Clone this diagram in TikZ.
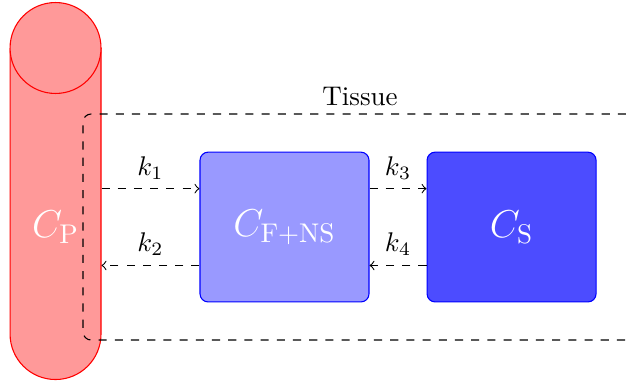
\documentclass[tikz,border=0pt]{standalone}
\usepackage{amsmath}
\usepackage{tikz}
\usetikzlibrary{positioning}

\tikzset{
  comp/.style={draw=blue, rounded corners=3pt, minimum width=2.2cm, minimum height=1.95cm, text=white, font=\Large},
  flow/.style={dashed, ->},
  rate/.style={midway, above}
}

\begin{document}
\begin{tikzpicture}
    \useasboundingbox (0,0) rectangle (8.15,5.013);

    % plasma

    \draw[red, fill=red!40] (0.131,4.388) -- (0.131,0.664) arc (180:360:0.592) -- (1.315,4.388);
    \draw[red, fill=red!40] (0.723,4.388) circle (0.592);
    \node[minimum width=1.184cm, inner sep=0, text=white, font=\Large] (cp) at (0.723,2.057) {$C_{\mathrm{P}}$};

    % tissue

    \draw[dashed, rounded corners=3pt] (8.15,3.529) -- (1.081,3.529) -- (1.081,0.586) -- (8.15,0.586);
    \node (tissue) at (4.687,3.75) {Tissue};

    \node[comp, fill=blue!40] (fns) at (3.704,2.057) {$C_{\mathrm{F+NS}}$};
    \node[comp, fill=blue!70, right=0.742cm of fns] (s) {$C_{\mathrm{S}}$};

    % exchange

    \draw[flow] ([yshift=5mm]fns.west -| cp.east) -- ([yshift=5mm]fns.west) node[rate] {$k_1$};
    \draw[flow] ([yshift=-5mm]fns.west) -- ([yshift=-5mm]fns.west -| cp.east) node[rate] {$k_2$};
    \draw[flow] ([yshift=5mm]fns.east) -- ([yshift=5mm]s.west) node[rate] {$k_3$};
    \draw[flow] ([yshift=-5mm]s.west) -- ([yshift=-5mm]fns.east) node[rate] {$k_4$};

\end{tikzpicture}
\end{document}
